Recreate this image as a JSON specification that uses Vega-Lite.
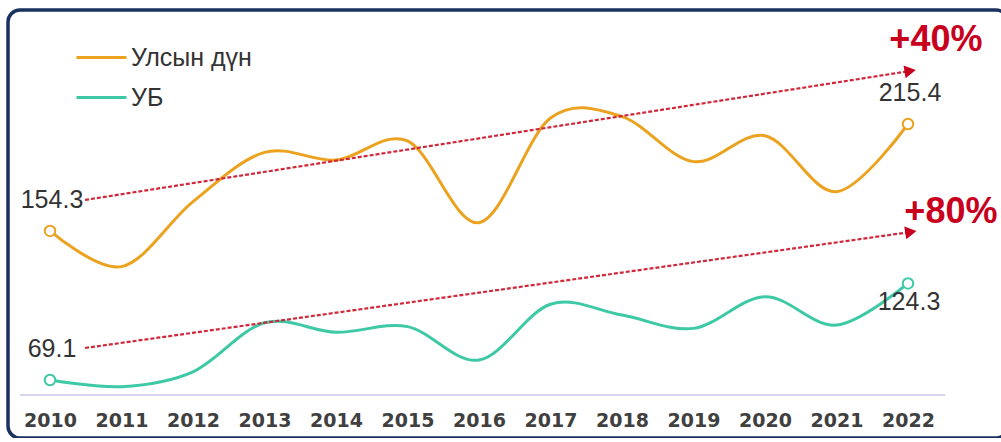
{
  "$schema": "https://vega.github.io/schema/vega-lite/v6.json",
  "width": 1000,
  "height": 428,
  "padding": {"left": 8, "top": 10, "right": 0, "bottom": 0},
  "autosize": {"type": "none"},
  "background": "white",
  "view": {"stroke": "#1b3160", "strokeWidth": 3.5, "cornerRadius": 12, "fill": "white"},
  "config": {"font": "Liberation Sans"},
  "datasets": {
    "series": [
      {"year": 2010, "series": "Улсын дүн", "value": 154.3},
      {"year": 2011, "series": "Улсын дүн", "value": 133.9},
      {"year": 2012, "series": "Улсын дүн", "value": 171.0},
      {"year": 2013, "series": "Улсын дүн", "value": 199.2},
      {"year": 2014, "series": "Улсын дүн", "value": 194.8},
      {"year": 2015, "series": "Улсын дүн", "value": 205.7},
      {"year": 2016, "series": "Улсын дүн", "value": 159.0},
      {"year": 2017, "series": "Улсын дүн", "value": 218.8},
      {"year": 2018, "series": "Улсын дүн", "value": 219.6},
      {"year": 2019, "series": "Улсын дүн", "value": 193.9},
      {"year": 2020, "series": "Улсын дүн", "value": 208.7},
      {"year": 2021, "series": "Улсын дүн", "value": 176.7},
      {"year": 2022, "series": "Улсын дүн", "value": 215.4},
      {"year": 2010, "series": "УБ", "value": 69.1},
      {"year": 2011, "series": "УБ", "value": 65.3},
      {"year": 2012, "series": "УБ", "value": 73.8},
      {"year": 2013, "series": "УБ", "value": 101.8},
      {"year": 2014, "series": "УБ", "value": 96.4},
      {"year": 2015, "series": "УБ", "value": 99.6},
      {"year": 2016, "series": "УБ", "value": 80.5},
      {"year": 2017, "series": "УБ", "value": 112.4},
      {"year": 2018, "series": "УБ", "value": 106.2},
      {"year": 2019, "series": "УБ", "value": 98.6},
      {"year": 2020, "series": "УБ", "value": 116.7},
      {"year": 2021, "series": "УБ", "value": 100.5},
      {"year": 2022, "series": "УБ", "value": 124.3}
    ],
    "trends": [
      {"trend": "Улсын дүн", "year": 2010.49, "value": 172.0, "end": false},
      {"trend": "Улсын дүн", "year": 2022.03, "value": 245.7, "end": true},
      {"trend": "УБ", "year": 2010.49, "value": 87.4, "end": false},
      {"trend": "УБ", "year": 2022.04, "value": 153.7, "end": true}
    ],
    "growth": [
      {"label": "+40%", "year": 2022.39, "value": 263.4},
      {"label": "+80%", "year": 2022.6, "value": 165.1}
    ],
    "baseline": [
      {"from": 2009.58, "to": 2022.52, "value": 60.5}
    ]
  },
  "encoding": {
    "x": {
      "field": "year",
      "type": "quantitative",
      "scale": {"domain": [2009.4126, 2023.3986], "nice": false, "zero": false},
      "axis": {
        "orient": "bottom",
        "offset": -43,
        "values": [2010, 2011, 2012, 2013, 2014, 2015, 2016, 2017, 2018, 2019, 2020, 2021, 2022],
        "format": "d",
        "title": null,
        "domain": false,
        "ticks": false,
        "tickSize": 0,
        "grid": false,
        "labelFont": "DejaVu Sans",
        "labelFontWeight": "bold",
        "labelFontSize": 19,
        "labelColor": "#404040",
        "labelPadding": 16,
        "labelBaseline": "top"
      }
    },
    "y": {
      "field": "value",
      "type": "quantitative",
      "scale": {"domain": [35.95, 280.55], "nice": false, "zero": false},
      "axis": null
    }
  },
  "layer": [
    {
      "data": {"name": "baseline"},
      "mark": {"type": "rule", "color": "#d5d5ee", "strokeWidth": 2},
      "encoding": {
        "x": {"field": "from", "type": "quantitative"},
        "x2": {"field": "to"},
        "y": {"field": "value", "type": "quantitative"}
      }
    },
    {
      "data": {"name": "series"},
      "mark": {"type": "line", "interpolate": "cardinal", "strokeWidth": 3},
      "encoding": {
        "color": {
          "field": "series",
          "type": "nominal",
          "scale": {"domain": ["Улсын дүн", "УБ"], "range": ["#eba21f", "#3dc9a6"]},
          "legend": {
            "title": null,
            "orient": "none",
            "legendX": 67,
            "legendY": 21,
            "padding": 0,
            "symbolType": "stroke",
            "symbolSize": 2500,
            "symbolStrokeWidth": 3,
            "labelFontSize": 25,
            "labelColor": "#333333",
            "labelFont": "Liberation Sans",
            "labelOffset": 3,
            "rowPadding": 0
          }
        }
      }
    },
    {
      "data": {"name": "trends"},
      "mark": {"type": "line", "color": "#d0283a", "strokeWidth": 2.2, "strokeDash": [4, 2]},
      "encoding": {"detail": {"field": "trend", "type": "nominal"}}
    },
    {
      "data": {"name": "trends"},
      "transform": [{"filter": "datum.end"}],
      "mark": {"type": "point", "shape": "triangle-right", "filled": true, "color": "#c8001e", "size": 170, "angle": -9, "opacity": 1}
    },
    {
      "data": {"name": "series"},
      "transform": [{"filter": "datum.year == 2010 || datum.year == 2022"}],
      "mark": {"type": "point", "filled": false, "fill": "white", "size": 110, "strokeWidth": 2, "opacity": 1},
      "encoding": {
        "color": {"field": "series", "type": "nominal", "legend": null}
      }
    },
    {
      "data": {"name": "series"},
      "transform": [{"filter": "(datum.year == 2010) || (datum.year == 2022 && datum.series == 'Улсын дүн')"}],
      "mark": {"type": "text", "fontSize": 25, "color": "#333333", "dy": -31, "dx": 2},
      "encoding": {"text": {"field": "value", "type": "quantitative", "format": ".1f"}}
    },
    {
      "data": {"name": "series"},
      "transform": [{"filter": "datum.year == 2022 && datum.series == 'УБ'"}],
      "mark": {"type": "text", "fontSize": 25, "color": "#333333", "dy": 19, "dx": 1},
      "encoding": {"text": {"field": "value", "type": "quantitative", "format": ".1f"}}
    },
    {
      "data": {"name": "growth"},
      "mark": {"type": "text", "fontSize": 36, "fontWeight": "bold", "color": "#c8001e"},
      "encoding": {"text": {"field": "label", "type": "nominal"}}
    }
  ]
}
